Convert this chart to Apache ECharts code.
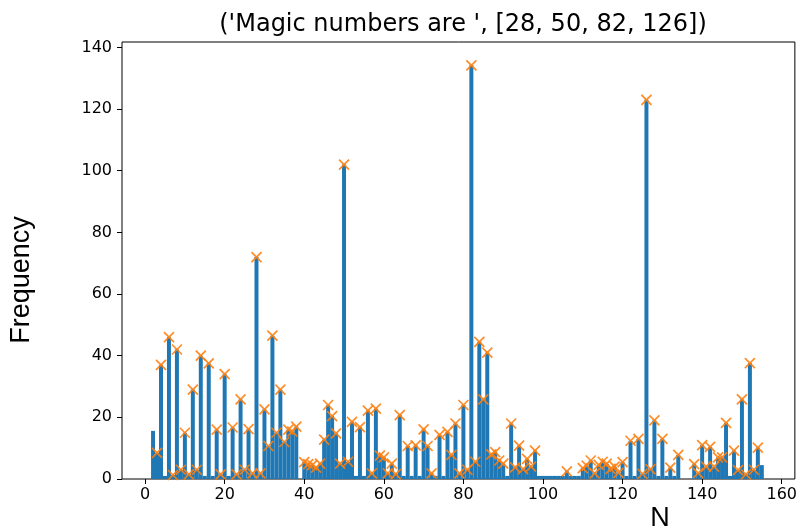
<!DOCTYPE html>
<html>
<head>
<meta charset="utf-8">
<script src="https://cdn.jsdelivr.net/npm/echarts@6/dist/echarts.min.js"></script>
<style>
  html, body { margin: 0; padding: 0; background: #ffffff; }
  #chart { width: 800px; height: 529px; }
</style>
</head>
<body>
<div id="chart"></div>
<script>
// Neutron number N of the first bin; one bin per integer N.
const firstN = 2;

// Count of nuclides per neutron number N = 2 .. 155
const freq = [
  15.6, 8.5, 37, 1, 46, 1.3, 42, 3, 15, 1.5,          // 2-11
  29, 3, 40, 1, 37.5, 1, 16, 1.5, 34, 1,              // 12-21
  16.7, 1.5, 25.8, 3, 16.2, 1.8, 72, 1.8, 22.6, 10.7, // 22-31
  46.5, 15, 29, 12, 16, 15.4, 17, 0, 5.5, 4.8,        // 32-41
  4.5, 3.7, 5, 12.8, 24, 20.4, 14.8, 5, 102, 5.6,     // 42-51
  18.5, 1, 16.8, 1, 22.2, 1.8, 22.8, 7.6, 7, 1.8,     // 52-61
  5, 1.6, 20.7, 1, 10.7, 1, 10.9, 1, 16.1, 10.7,      // 62-71
  1.8, 1, 14.3, 1, 15.3, 7.8, 18, 1.8, 24, 3,         // 72-81
  134.2, 5.6, 44.5, 25.8, 41, 8, 8.7, 6, 5, 1,        // 82-91
  18, 3.8, 10.8, 3.2, 6.5, 4, 9.2, 1, 1, 1,           // 92-101
  1, 1, 1, 1, 2.5, 1, 1, 1, 3.5, 4.3,                 // 102-111
  6, 1.8, 4.6, 5.6, 5, 3.3, 4, 2, 5.5, 1,             // 112-121
  12.4, 1, 13, 1.7, 123, 3.2, 19, 1, 13, 1,           // 122-131
  3.7, 1, 7.8, 0, 0, 0, 4.8, 1.9, 11, 4,              // 132-141
  10.4, 4, 7, 7, 18.2, 1, 9.2, 2.9, 25.8, 1.5,        // 142-151
  37.6, 3, 10.2, 4.5                                  // 152-155
];

// Bins that carry no 'x' marker on top
const unmarkedN = [2, 5, 15, 17, 21, 53, 55, 65, 67, 69, 73, 75, 91,
  99, 100, 101, 102, 103, 104, 105, 107, 108, 109, 121, 123, 129, 131, 133, 147, 155];

const xTicks = [0, 20, 40, 60, 80, 100, 120, 140, 160];
const yTicks = [0, 20, 40, 60, 80, 100, 120, 140];

const magicNumbers = [28, 50, 82, 126];
const titleText = "('Magic numbers are ', [" + magicNumbers.join(', ') + "])";

const binData = freq.map((v, i) => [firstN + i, v]);
const markerData = binData.filter(d => d[1] > 0 && unmarkedN.indexOf(d[0]) < 0);

const BLUE = '#1f77b4';
const ORANGE = '#ff7f0e';
const tickFont = { fontFamily: 'DejaVu Sans', fontSize: 16, color: '#000' };

const chart = echarts.init(document.getElementById('chart'), null, { renderer: 'canvas' });

chart.setOption({
  animation: false,
  backgroundColor: '#ffffff',
  title: {
    text: titleText,
    left: 458,
    textAlign: 'center',
    top: 8,
    textStyle: { fontFamily: 'DejaVu Sans', fontSize: 24, fontWeight: 'normal', color: '#000' }
  },
  grid: {
    left: 122, right: 5, top: 42, bottom: 50,
    show: true, borderColor: '#000', borderWidth: 1, backgroundColor: '#fff'
  },
  xAxis: {
    type: 'value',
    min: -5.8, max: 163.3,
    splitLine: { show: false },
    axisLine: { show: false, onZero: false },
    axisTick: { show: true, length: 5, lineStyle: { color: '#000', width: 1 }, customValues: xTicks },
    axisLabel: Object.assign({ margin: 8, customValues: xTicks }, tickFont)
  },
  yAxis: {
    type: 'value',
    min: 0, max: 141.75,
    splitLine: { show: false },
    axisLine: { show: false, onZero: false },
    axisTick: { show: true, length: 5, lineStyle: { color: '#000', width: 1 }, customValues: yTicks },
    axisLabel: Object.assign({ margin: 10, customValues: yTicks }, tickFont)
  },
  graphic: [
    {
      type: 'text', x: 22, y: 280, rotation: Math.PI / 2,
      style: { text: 'Frequency', fontFamily: 'Liberation Sans', fontSize: 27,
               fill: '#000', align: 'center', verticalAlign: 'middle' }
    },
    {
      type: 'text', x: 660, y: 519,
      style: { text: 'N', fontFamily: 'Liberation Sans', fontSize: 27,
               fill: '#000', align: 'center', verticalAlign: 'middle' }
    }
  ],
  series: [
    {
      // histogram bins, each one unit wide and centred on N
      type: 'custom',
      data: binData,
      encode: { x: 0, y: 1 },
      z: 2,
      renderItem: function (params, api) {
        const n = api.value(0), v = api.value(1);
        if (!(v > 0)) return;
        const p0 = api.coord([n - 0.5, v]);
        const p1 = api.coord([n + 0.5, 0]);
        return {
          type: 'rect',
          shape: { x: p0[0], y: p0[1], width: p1[0] - p0[0], height: p1[1] - p0[1] },
          style: { fill: BLUE }
        };
      }
    },
    {
      // 'x' markers on the bin counts
      type: 'custom',
      data: markerData,
      encode: { x: 0, y: 1 },
      z: 3,
      renderItem: function (params, api) {
        const p = api.coord([api.value(0), api.value(1)]);
        const h = 5;
        const st = { stroke: ORANGE, lineWidth: 1.7, opacity: 0.9 };
        return {
          type: 'group',
          children: [
            { type: 'line', shape: { x1: p[0] - h, y1: p[1] - h, x2: p[0] + h, y2: p[1] + h }, style: st },
            { type: 'line', shape: { x1: p[0] - h, y1: p[1] + h, x2: p[0] + h, y2: p[1] - h }, style: st }
          ]
        };
      }
    }
  ]
});
</script>
</body>
</html>
